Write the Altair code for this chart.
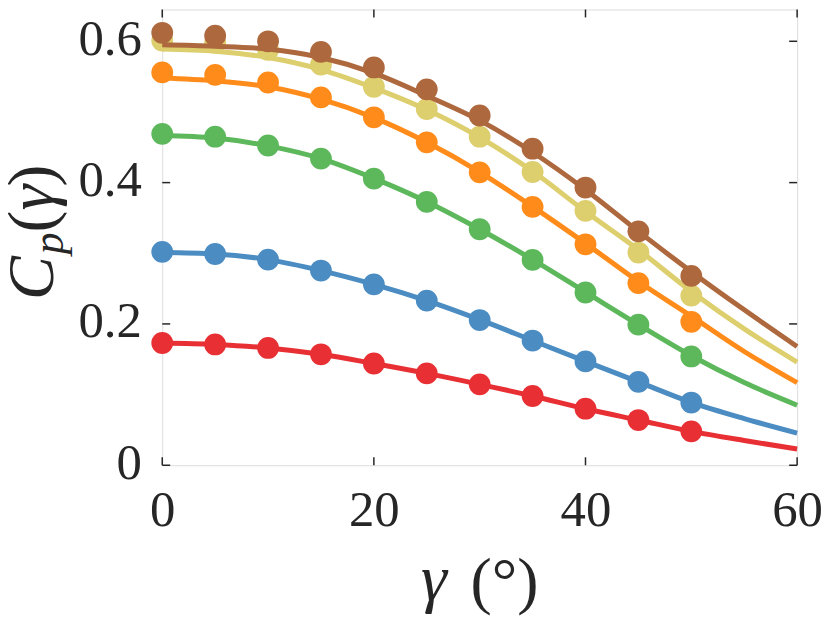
import altair as alt
import pandas as pd

# ---- data ----
x_pts = [0, 5, 10, 15, 20, 25, 30, 35, 40, 45, 50]
red_pts = [0.173, 0.171, 0.166, 0.157, 0.144, 0.130, 0.1145, 0.098, 0.080, 0.064, 0.048]
blue_pts = [0.302, 0.299, 0.291, 0.2755, 0.256, 0.233, 0.2055, 0.1765, 0.147, 0.118, 0.0887]
green_pts = [0.469, 0.465, 0.4525, 0.434, 0.4056, 0.3727, 0.334, 0.2906, 0.2445, 0.199, 0.154]
orange_pts = [0.556, 0.5525, 0.5417, 0.5206, 0.4924, 0.457, 0.4145, 0.3656, 0.3127, 0.2577, 0.203]
yellow_pts = [0.601, 0.598, 0.588, 0.567, 0.5356, 0.504, 0.465, 0.415, 0.360, 0.301, 0.240]
brown_pts = [0.612, 0.608, 0.600, 0.585, 0.563, 0.532, 0.495, 0.448, 0.393, 0.331, 0.268]

x_line = [0, 5, 10, 15, 20, 25, 30, 35, 40, 45, 50, 55, 60]
red_line = [0.173, 0.171, 0.166, 0.157, 0.144, 0.130, 0.1145, 0.098, 0.080, 0.064, 0.048, 0.035, 0.023]
blue_line = [0.301, 0.299, 0.291, 0.2755, 0.256, 0.233, 0.206, 0.1765, 0.147, 0.118, 0.089, 0.066, 0.0455]
green_line = [0.4666, 0.463, 0.452, 0.434, 0.406, 0.373, 0.334, 0.291, 0.245, 0.199, 0.155, 0.117, 0.085]
orange_line = [0.548, 0.544, 0.5356, 0.518, 0.492, 0.457, 0.415, 0.366, 0.314, 0.260, 0.211, 0.161, 0.117]
yellow_line = [0.589, 0.586, 0.577, 0.560, 0.534, 0.503, 0.464, 0.416, 0.359, 0.305, 0.246, 0.193, 0.146]
brown_line = [0.595, 0.593, 0.589, 0.577, 0.555, 0.523, 0.488, 0.443, 0.390, 0.331, 0.274, 0.220, 0.168]

series = ["red", "blue", "green", "orange", "yellow", "brown"]
colors = ["#E83034", "#4B8CC2", "#5DB85C", "#FF8C1A", "#DDCE6E", "#AE683E"]
pts = [red_pts, blue_pts, green_pts, orange_pts, yellow_pts, brown_pts]
lines = [red_line, blue_line, green_line, orange_line, yellow_line, brown_line]

x_ticks = [0, 20, 40, 60]
y_ticks = [0, 0.2, 0.4, 0.6]

W, H = 638, 458
FONT = "Liberation Serif"
INK = "#262626"

xs = alt.Scale(domain=[0, 60], nice=False, zero=False)
ys = alt.Scale(domain=[0, 0.645], nice=False, zero=False)

layers = []
for name, col, p, l in zip(series, colors, pts, lines):
    dl = pd.DataFrame({"g": x_line, "c": l})
    dp = pd.DataFrame({"g": x_pts, "c": p})
    layers.append(
        alt.Chart(dl).mark_line(color=col, strokeWidth=5, interpolate="monotone", clip=False)
        .encode(x=alt.X("g:Q", scale=xs), y=alt.Y("c:Q", scale=ys))
    )
    layers.append(
        alt.Chart(dp).mark_circle(color=col, size=480, opacity=1)
        .encode(x=alt.X("g:Q", scale=xs), y=alt.Y("c:Q", scale=ys))
    )

# axes (labels only) on first layer
base_axes = alt.Chart(pd.DataFrame({"g": [0], "c": [0]})).mark_point(opacity=0).encode(
    x=alt.X("g:Q", scale=xs, title=None,
            axis=alt.Axis(values=x_ticks, ticks=False, tickSize=0, domain=False, grid=False,
                          labelFont=FONT, labelFontSize=51, labelColor=INK,
                          labelBaseline="alphabetic", labelPadding=61, labelFlush=False)),
    y=alt.Y("c:Q", scale=ys, title=None,
            axis=alt.Axis(values=y_ticks, ticks=False, tickSize=0, domain=False, grid=False,
                          labelFont=FONT, labelFontSize=51, labelColor=INK,
                          labelBaseline="alphabetic", labelOffset=13, labelPadding=21,
                          labelFlush=False,
                          labelExpr="datum.value == 0 ? '0' : format(datum.value, '.1f')")),
)

# inward ticks
dxt = pd.DataFrame({"g": x_ticks})
dyt = pd.DataFrame({"c": y_ticks})
tick_layers = [
    alt.Chart(dxt).mark_rule(color=INK, strokeWidth=1.5).encode(
        x=alt.X("g:Q", scale=xs), y=alt.value(H), y2=alt.value(H - 8)),
    alt.Chart(dxt).mark_rule(color=INK, strokeWidth=1.5).encode(
        x=alt.X("g:Q", scale=xs), y=alt.value(0), y2=alt.value(8)),
    alt.Chart(dyt).mark_rule(color=INK, strokeWidth=1.5).encode(
        y=alt.Y("c:Q", scale=ys), x=alt.value(0), x2=alt.value(8)),
    alt.Chart(dyt).mark_rule(color=INK, strokeWidth=1.5).encode(
        y=alt.Y("c:Q", scale=ys), x=alt.value(W), x2=alt.value(W - 8)),
]

# axis titles as text
TS = 66
one = pd.DataFrame({"k": [0]})
def txt(s, x, y, size=TS, italic=False, angle=0, align="center"):
    return alt.Chart(one).mark_text(
        text=s, font=FONT, fontSize=size, fontStyle="italic" if italic else "normal",
        color=INK, angle=angle, align=align, baseline="alphabetic"
    ).encode(x=alt.value(x), y=alt.value(y))

title_layers = [
    txt("γ", 273, 593, italic=True),
    txt("(°)", 344, 595, size=64),
    txt("C", -110, 292, italic=True, angle=270, align="left"),
    txt("p", -100, 246, size=44, italic=True, angle=270, align="left"),
    txt("(", -110, 224, angle=270, align="left"),
    txt("γ", -110, 202, italic=True, angle=270, align="left"),
    txt(")", -110, 178, angle=270, align="left"),
]

chart = alt.layer(base_axes, *tick_layers, *layers, *title_layers).properties(
    width=W, height=H,
    autosize=alt.AutoSizeParams(type="none"),
    padding={"left": 155, "top": 0, "right": 25, "bottom": 152},
).configure_view(stroke=INK, strokeWidth=1.5).configure(background="white")

chart.save("out.html", embed_options={"renderer": "svg", "actions": False})
